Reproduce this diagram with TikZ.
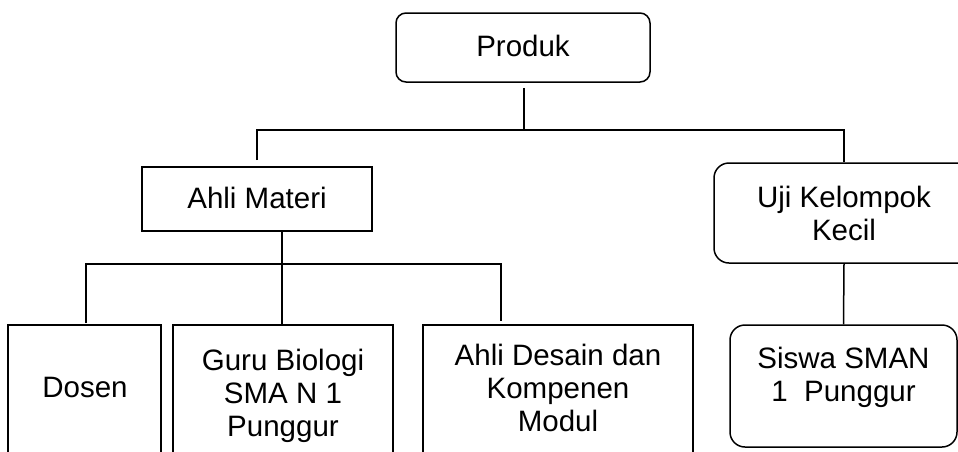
\documentclass[tikz,border=0pt]{standalone}
\usepackage{fontspec}
\setmainfont{Liberation Sans}
\begin{document}
\begin{tikzpicture}[x=1pt,y=-1pt,
  every node/.style={font=\fontsize{29.5}{33}\selectfont},
  box/.style={draw=black,line width=1.5pt,rectangle,inner sep=0pt},
  rbox/.style={box,rounded corners=#1},
  lbl/.style={align=center,inner sep=0pt},
  conn/.style={draw=black,line width=1.5pt}]
\useasboundingbox (0,0) rectangle (958,451);
\clip (0,0) rectangle (958,451);
% boxes
\node[rbox=10pt,minimum width=254,minimum height=69] (produk) at (523,47.5) {\raisebox{4pt}{Produk}};
\node[box,minimum width=230,minimum height=64] (ahli) at (257,199) {\raisebox{3pt}{Ahli Materi}};
\node[rbox=15pt,minimum width=260,minimum height=100,lbl] (uji) at (844,213) {Uji Kelompok\\Kecil};
\node[box,minimum width=153,minimum height=160] (dosen) at (84.5,405) {};
\node[box,minimum width=220,minimum height=160] (guru) at (283,405) {};
\node[box,minimum width=270,minimum height=160] (desain) at (558,405) {};
\node[rbox=15pt,minimum width=227,minimum height=122] (siswa) at (843.5,386) {};
% texts
\node[lbl] (tdosen) at (85,387) {Dosen};
\node[lbl] (tguru) at (283,396) {Guru Biologi\\SMA N 1\\Punggur};
\node[lbl] (tdesain) at (558,388) {Ahli Desain dan\\Kompenen\\Modul};
\node[lbl] (tsiswa) at (843.5,377) {Siswa SMAN\\1~~Punggur};
% junctions
\coordinate (j1) at (524,130);
\coordinate (j2) at (282,264);
\coordinate (ahlitop) at (257,160);
\coordinate (desaintop) at (501,321);
\coordinate (dosentop) at (86,323);
% connectors
\draw[conn] ([yshift=-5pt]produk.south -| j1) -- (j1);
\draw[conn] (ahlitop) |- (j1) -| (uji.north);
\draw[conn] (ahli.south -| j2) -- (j2);
\draw[conn] (dosentop) |- (j2) -| (desaintop);
\draw[conn] (j2) -- (j2 |- guru.north);
\draw[conn] (uji.south) -- (siswa.north);
\end{tikzpicture}
\end{document}
